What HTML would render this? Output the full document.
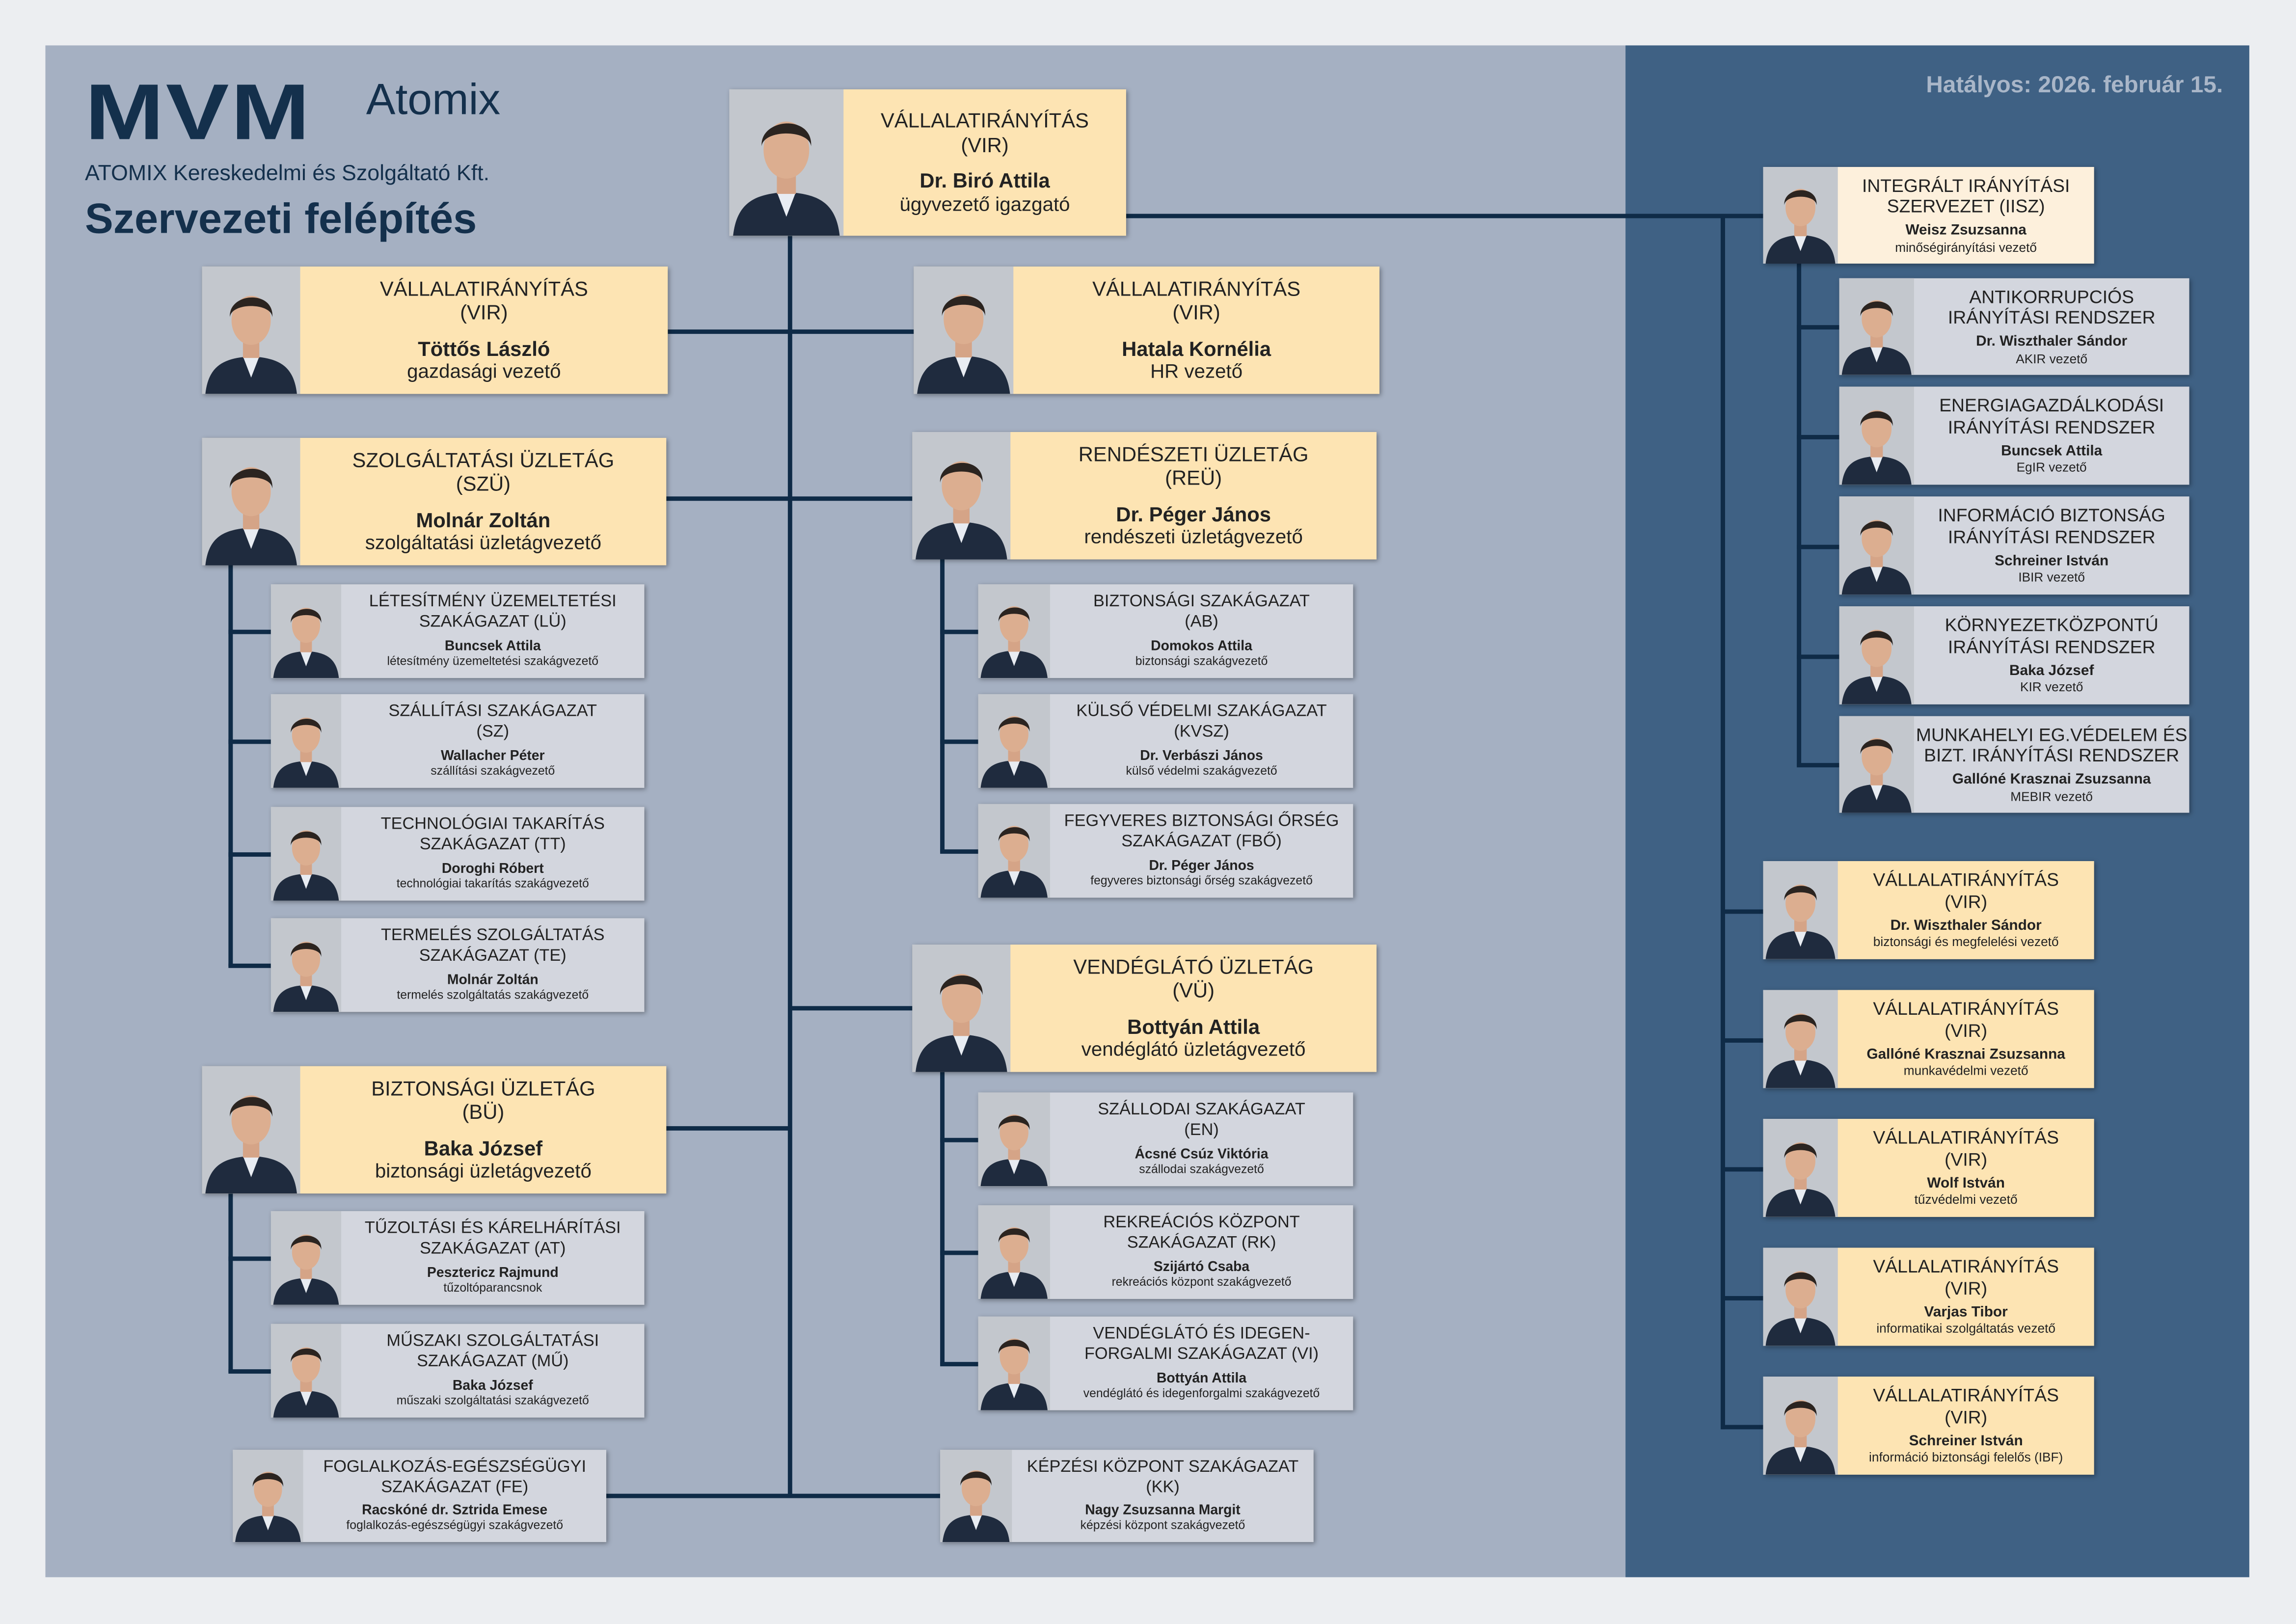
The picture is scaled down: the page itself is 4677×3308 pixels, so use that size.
<!DOCTYPE html>
<html><head><meta charset="utf-8">
<style>
html,body{margin:0;padding:0;background:#eceef1;}
body{width:4677px;height:3307px;overflow:hidden;position:relative;}
#w{position:absolute;left:0;top:0;width:1568px;height:1109px;transform:scale(2.983);transform-origin:0 0;font-family:"Liberation Sans Narrow","Liberation Sans",sans-serif;color:#222;}
.abs{position:absolute;}
#lp{left:31px;top:31px;width:1079px;height:1046px;background:#a5b0c2;}
#rp{left:1110px;top:31px;width:426px;height:1046px;background:#3f6184;}
.ln{position:absolute;background:#0f2b47;}
.card{position:absolute;display:flex;box-shadow:1px 1px 3px rgba(0,0,0,.35);}
.ph{height:100%;background:#bfc3c9;overflow:hidden;flex:none;}
.ph svg{width:100%;height:100%;display:block;}
.tx{flex:1;display:flex;flex-direction:column;justify-content:center;align-items:center;text-align:center;line-height:1.18;white-space:nowrap;}
.y{background:#fde4b3;}
.g{background:#d3d6de;}
.l{background:#fdf0dc;}
.big .t{font-size:14px;}
.big .n{font-size:14px;font-weight:bold;margin-top:8px;}
.big .r{font-size:13.5px;}
.sm .t{font-size:11.5px;}
.sm .n{font-size:9.5px;font-weight:bold;margin-top:3px;}
.sm .r{font-size:8.3px;}
.rt .t{font-size:12.5px;}
.rt .n{font-size:10px;font-weight:bold;margin-top:3px;}
.rt .r{font-size:8.8px;}
</style></head><body>
<div id="w">
<div class="abs" id="lp"></div>
<div class="abs" id="rp"></div>

<!-- header -->
<div class="abs" style="left:58px;top:50px;font-size:54px;font-weight:bold;color:#14304c;letter-spacing:1px;transform:scaleX(1.2);transform-origin:0 0;font-family:'Liberation Sans',sans-serif;line-height:54px;">MVM</div>
<div class="abs" style="left:250px;top:52px;font-size:30px;color:#14304c;font-family:'Liberation Sans',sans-serif;">Atomix</div>
<div class="abs" style="left:58px;top:110px;font-size:15px;color:#14304c;">ATOMIX Kereskedelmi és Szolgáltató Kft.</div>
<div class="abs" style="left:58px;top:134px;font-size:29px;font-weight:bold;color:#14304c;font-family:'Liberation Sans',sans-serif;">Szervezeti felépítés</div>
<div class="abs" style="left:1200px;top:50px;width:318px;text-align:right;font-size:16px;font-weight:bold;color:#a9b6c8;">Hatályos: 2026. február 15.</div>

<!-- lines -->
<div class="ln" style="left:538px;top:161px;width:2.6px;height:861px;"></div>
<div class="ln" style="left:769px;top:146px;width:435px;height:2.6px;"></div>
<div class="ln" style="left:1175px;top:146px;width:2.6px;height:830px;"></div>
<div class="ln" style="left:456px;top:225px;width:168px;height:2.6px;"></div>
<div class="ln" style="left:455px;top:339px;width:168px;height:2.6px;"></div>
<div class="ln" style="left:539px;top:687px;width:84px;height:2.6px;"></div>
<div class="ln" style="left:455px;top:769px;width:84px;height:2.6px;"></div>
<div class="ln" style="left:414px;top:1020px;width:228px;height:2.6px;"></div>
<div class="ln" style="left:156px;top:386px;width:2.6px;height:274px;"></div>
<div class="ln" style="left:156px;top:430px;width:29px;height:2.6px;"></div>
<div class="ln" style="left:156px;top:505px;width:29px;height:2.6px;"></div>
<div class="ln" style="left:156px;top:582px;width:29px;height:2.6px;"></div>
<div class="ln" style="left:156px;top:658px;width:29px;height:2.6px;"></div>
<div class="ln" style="left:642px;top:382px;width:2.6px;height:200px;"></div>
<div class="ln" style="left:642px;top:430px;width:26px;height:2.6px;"></div>
<div class="ln" style="left:642px;top:505px;width:26px;height:2.6px;"></div>
<div class="ln" style="left:642px;top:580px;width:26px;height:2.6px;"></div>
<div class="ln" style="left:642px;top:732px;width:2.6px;height:200px;"></div>
<div class="ln" style="left:642px;top:777px;width:26px;height:2.6px;"></div>
<div class="ln" style="left:642px;top:854px;width:26px;height:2.6px;"></div>
<div class="ln" style="left:642px;top:930px;width:26px;height:2.6px;"></div>
<div class="ln" style="left:156px;top:815px;width:2.6px;height:122px;"></div>
<div class="ln" style="left:156px;top:858px;width:29px;height:2.6px;"></div>
<div class="ln" style="left:156px;top:935px;width:29px;height:2.6px;"></div>
<div class="ln" style="left:1227px;top:180px;width:2.6px;height:343px;"></div>
<div class="ln" style="left:1227px;top:222px;width:29px;height:2.6px;"></div>
<div class="ln" style="left:1227px;top:297px;width:29px;height:2.6px;"></div>
<div class="ln" style="left:1227px;top:372px;width:29px;height:2.6px;"></div>
<div class="ln" style="left:1227px;top:447px;width:29px;height:2.6px;"></div>
<div class="ln" style="left:1227px;top:521px;width:29px;height:2.6px;"></div>
<div class="ln" style="left:1176px;top:621px;width:28px;height:2.6px;"></div>
<div class="ln" style="left:1176px;top:709px;width:28px;height:2.6px;"></div>
<div class="ln" style="left:1176px;top:797px;width:28px;height:2.6px;"></div>
<div class="ln" style="left:1176px;top:885px;width:28px;height:2.6px;"></div>
<div class="ln" style="left:1176px;top:973px;width:28px;height:2.6px;"></div>

<!-- big cards -->
<div class="card big y" style="left:498px;top:61px;width:271px;height:100px;"><div class="ph" style="width:78px"></div><div class="tx"><div class="t">VÁLLALATIRÁNYÍTÁS<br>(VIR)</div><div class="n">Dr. Biró Attila</div><div class="r">ügyvezető igazgató</div></div></div>
<div class="card big y" style="left:138px;top:182px;width:318px;height:87px;"><div class="ph" style="width:67px"></div><div class="tx"><div class="t">VÁLLALATIRÁNYÍTÁS<br>(VIR)</div><div class="n">Töttős László</div><div class="r">gazdasági vezető</div></div></div>
<div class="card big y" style="left:624px;top:182px;width:318px;height:87px;"><div class="ph" style="width:68px"></div><div class="tx"><div class="t">VÁLLALATIRÁNYÍTÁS<br>(VIR)</div><div class="n">Hatala Kornélia</div><div class="r">HR vezető</div></div></div>
<div class="card big y" style="left:138px;top:299px;width:317px;height:87px;"><div class="ph" style="width:67px"></div><div class="tx"><div class="t">SZOLGÁLTATÁSI ÜZLETÁG<br>(SZÜ)</div><div class="n">Molnár Zoltán</div><div class="r">szolgáltatási üzletágvezető</div></div></div>
<div class="card big y" style="left:623px;top:295px;width:317px;height:87px;"><div class="ph" style="width:67px"></div><div class="tx"><div class="t">RENDÉSZETI ÜZLETÁG<br>(REÜ)</div><div class="n">Dr. Péger János</div><div class="r">rendészeti üzletágvezető</div></div></div>
<div class="card big y" style="left:623px;top:645px;width:317px;height:87px;"><div class="ph" style="width:67px"></div><div class="tx"><div class="t">VENDÉGLÁTÓ ÜZLETÁG<br>(VÜ)</div><div class="n">Bottyán Attila</div><div class="r">vendéglátó üzletágvezető</div></div></div>
<div class="card big y" style="left:138px;top:728px;width:317px;height:87px;"><div class="ph" style="width:67px"></div><div class="tx"><div class="t">BIZTONSÁGI ÜZLETÁG<br>(BÜ)</div><div class="n">Baka József</div><div class="r">biztonsági üzletágvezető</div></div></div>

<!-- small cards left -->
<div class="card sm g" style="left:185px;top:399px;width:255px;height:64px;"><div class="ph" style="width:48px"></div><div class="tx"><div class="t">LÉTESÍTMÉNY ÜZEMELTETÉSI<br>SZAKÁGAZAT (LÜ)</div><div class="n">Buncsek Attila</div><div class="r">létesítmény üzemeltetési szakágvezető</div></div></div>
<div class="card sm g" style="left:185px;top:474px;width:255px;height:64px;"><div class="ph" style="width:48px"></div><div class="tx"><div class="t">SZÁLLÍTÁSI SZAKÁGAZAT<br>(SZ)</div><div class="n">Wallacher Péter</div><div class="r">szállítási szakágvezető</div></div></div>
<div class="card sm g" style="left:185px;top:551px;width:255px;height:64px;"><div class="ph" style="width:48px"></div><div class="tx"><div class="t">TECHNOLÓGIAI TAKARÍTÁS<br>SZAKÁGAZAT (TT)</div><div class="n">Doroghi Róbert</div><div class="r">technológiai takarítás szakágvezető</div></div></div>
<div class="card sm g" style="left:185px;top:627px;width:255px;height:64px;"><div class="ph" style="width:48px"></div><div class="tx"><div class="t">TERMELÉS SZOLGÁLTATÁS<br>SZAKÁGAZAT (TE)</div><div class="n">Molnár Zoltán</div><div class="r">termelés szolgáltatás szakágvezető</div></div></div>
<div class="card sm g" style="left:185px;top:827px;width:255px;height:64px;"><div class="ph" style="width:48px"></div><div class="tx"><div class="t">TŰZOLTÁSI ÉS KÁRELHÁRÍTÁSI<br>SZAKÁGAZAT (AT)</div><div class="n">Pesztericz Rajmund</div><div class="r">tűzoltóparancsnok</div></div></div>
<div class="card sm g" style="left:185px;top:904px;width:255px;height:64px;"><div class="ph" style="width:48px"></div><div class="tx"><div class="t">MŰSZAKI SZOLGÁLTATÁSI<br>SZAKÁGAZAT (MŰ)</div><div class="n">Baka József</div><div class="r">műszaki szolgáltatási szakágvezető</div></div></div>
<div class="card sm g" style="left:159px;top:990px;width:255px;height:63px;"><div class="ph" style="width:48px"></div><div class="tx"><div class="t">FOGLALKOZÁS-EGÉSZSÉGÜGYI<br>SZAKÁGAZAT (FE)</div><div class="n">Racskóné dr. Sztrida Emese</div><div class="r">foglalkozás-egészségügyi szakágvezető</div></div></div>

<!-- small cards middle -->
<div class="card sm g" style="left:668px;top:399px;width:256px;height:64px;"><div class="ph" style="width:49px"></div><div class="tx"><div class="t">BIZTONSÁGI SZAKÁGAZAT<br>(AB)</div><div class="n">Domokos Attila</div><div class="r">biztonsági szakágvezető</div></div></div>
<div class="card sm g" style="left:668px;top:474px;width:256px;height:64px;"><div class="ph" style="width:49px"></div><div class="tx"><div class="t">KÜLSŐ VÉDELMI SZAKÁGAZAT<br>(KVSZ)</div><div class="n">Dr. Verbászi János</div><div class="r">külső védelmi szakágvezető</div></div></div>
<div class="card sm g" style="left:668px;top:549px;width:256px;height:64px;"><div class="ph" style="width:49px"></div><div class="tx"><div class="t">FEGYVERES BIZTONSÁGI ŐRSÉG<br>SZAKÁGAZAT (FBŐ)</div><div class="n">Dr. Péger János</div><div class="r">fegyveres biztonsági őrség szakágvezető</div></div></div>
<div class="card sm g" style="left:668px;top:746px;width:256px;height:64px;"><div class="ph" style="width:49px"></div><div class="tx"><div class="t">SZÁLLODAI SZAKÁGAZAT<br>(EN)</div><div class="n">Ácsné Csúz Viktória</div><div class="r">szállodai szakágvezető</div></div></div>
<div class="card sm g" style="left:668px;top:823px;width:256px;height:64px;"><div class="ph" style="width:49px"></div><div class="tx"><div class="t">REKREÁCIÓS KÖZPONT<br>SZAKÁGAZAT (RK)</div><div class="n">Szijártó Csaba</div><div class="r">rekreációs központ szakágvezető</div></div></div>
<div class="card sm g" style="left:668px;top:899px;width:256px;height:64px;"><div class="ph" style="width:49px"></div><div class="tx"><div class="t">VENDÉGLÁTÓ ÉS IDEGEN-<br>FORGALMI SZAKÁGAZAT (VI)</div><div class="n">Bottyán Attila</div><div class="r">vendéglátó és idegenforgalmi szakágvezető</div></div></div>
<div class="card sm g" style="left:642px;top:990px;width:255px;height:63px;"><div class="ph" style="width:49px"></div><div class="tx"><div class="t">KÉPZÉSI KÖZPONT SZAKÁGAZAT<br>(KK)</div><div class="n">Nagy Zsuzsanna Margit</div><div class="r">képzési központ szakágvezető</div></div></div>

<!-- right side -->
<div class="card rt l" style="left:1204px;top:114px;width:226px;height:66px;"><div class="ph" style="width:51px"></div><div class="tx"><div class="t">INTEGRÁLT IRÁNYÍTÁSI<br>SZERVEZET (IISZ)</div><div class="n">Weisz Zsuzsanna</div><div class="r">minőségirányítási vezető</div></div></div>
<div class="card rt g" style="left:1256px;top:190px;width:239px;height:66px;"><div class="ph" style="width:51px"></div><div class="tx"><div class="t">ANTIKORRUPCIÓS<br>IRÁNYÍTÁSI RENDSZER</div><div class="n">Dr. Wiszthaler Sándor</div><div class="r">AKIR vezető</div></div></div>
<div class="card rt g" style="left:1256px;top:264px;width:239px;height:67px;"><div class="ph" style="width:51px"></div><div class="tx"><div class="t">ENERGIAGAZDÁLKODÁSI<br>IRÁNYÍTÁSI RENDSZER</div><div class="n">Buncsek Attila</div><div class="r">EgIR vezető</div></div></div>
<div class="card rt g" style="left:1256px;top:339px;width:239px;height:67px;"><div class="ph" style="width:51px"></div><div class="tx"><div class="t">INFORMÁCIÓ BIZTONSÁG<br>IRÁNYÍTÁSI RENDSZER</div><div class="n">Schreiner István</div><div class="r">IBIR vezető</div></div></div>
<div class="card rt g" style="left:1256px;top:414px;width:239px;height:67px;"><div class="ph" style="width:51px"></div><div class="tx"><div class="t">KÖRNYEZETKÖZPONTÚ<br>IRÁNYÍTÁSI RENDSZER</div><div class="n">Baka József</div><div class="r">KIR vezető</div></div></div>
<div class="card rt g" style="left:1256px;top:489px;width:239px;height:66px;"><div class="ph" style="width:51px"></div><div class="tx"><div class="t">MUNKAHELYI EG.VÉDELEM ÉS<br>BIZT. IRÁNYÍTÁSI RENDSZER</div><div class="n">Gallóné Krasznai Zsuzsanna</div><div class="r">MEBIR vezető</div></div></div>

<div class="card rt y" style="left:1204px;top:588px;width:226px;height:67px;"><div class="ph" style="width:51px"></div><div class="tx"><div class="t">VÁLLALATIRÁNYÍTÁS<br>(VIR)</div><div class="n">Dr. Wiszthaler Sándor</div><div class="r">biztonsági és megfelelési vezető</div></div></div>
<div class="card rt y" style="left:1204px;top:676px;width:226px;height:67px;"><div class="ph" style="width:51px"></div><div class="tx"><div class="t">VÁLLALATIRÁNYÍTÁS<br>(VIR)</div><div class="n">Gallóné Krasznai Zsuzsanna</div><div class="r">munkavédelmi vezető</div></div></div>
<div class="card rt y" style="left:1204px;top:764px;width:226px;height:67px;"><div class="ph" style="width:51px"></div><div class="tx"><div class="t">VÁLLALATIRÁNYÍTÁS<br>(VIR)</div><div class="n">Wolf István</div><div class="r">tűzvédelmi vezető</div></div></div>
<div class="card rt y" style="left:1204px;top:852px;width:226px;height:67px;"><div class="ph" style="width:51px"></div><div class="tx"><div class="t">VÁLLALATIRÁNYÍTÁS<br>(VIR)</div><div class="n">Varjas Tibor</div><div class="r">informatikai szolgáltatás vezető</div></div></div>
<div class="card rt y" style="left:1204px;top:940px;width:226px;height:67px;"><div class="ph" style="width:51px"></div><div class="tx"><div class="t">VÁLLALATIRÁNYÍTÁS<br>(VIR)</div><div class="n">Schreiner István</div><div class="r">információ biztonsági felelős (IBF)</div></div></div>
</div>
<script>
var svg='<svg viewBox="0 0 60 80" preserveAspectRatio="xMidYMax slice"><rect width="60" height="80" fill="#c3c7cd"/><path d="M2 80 C4 62 14 58 30 57 C46 58 56 62 58 80 Z" fill="#1f2b3e"/><path d="M25 57 L30 70 L35 57 Z" fill="#e8ecf2"/><rect x="25" y="46" width="10" height="12" fill="#d5a487"/><ellipse cx="30" cy="35" rx="12" ry="15" fill="#dcae90"/><path d="M17 33 C16 18 44 16 43 33 C42 24 18 24 17 33 Z" fill="#2b2420"/></svg>';
document.querySelectorAll('.ph').forEach(function(e){e.innerHTML=svg;});
</script>
</body></html>
